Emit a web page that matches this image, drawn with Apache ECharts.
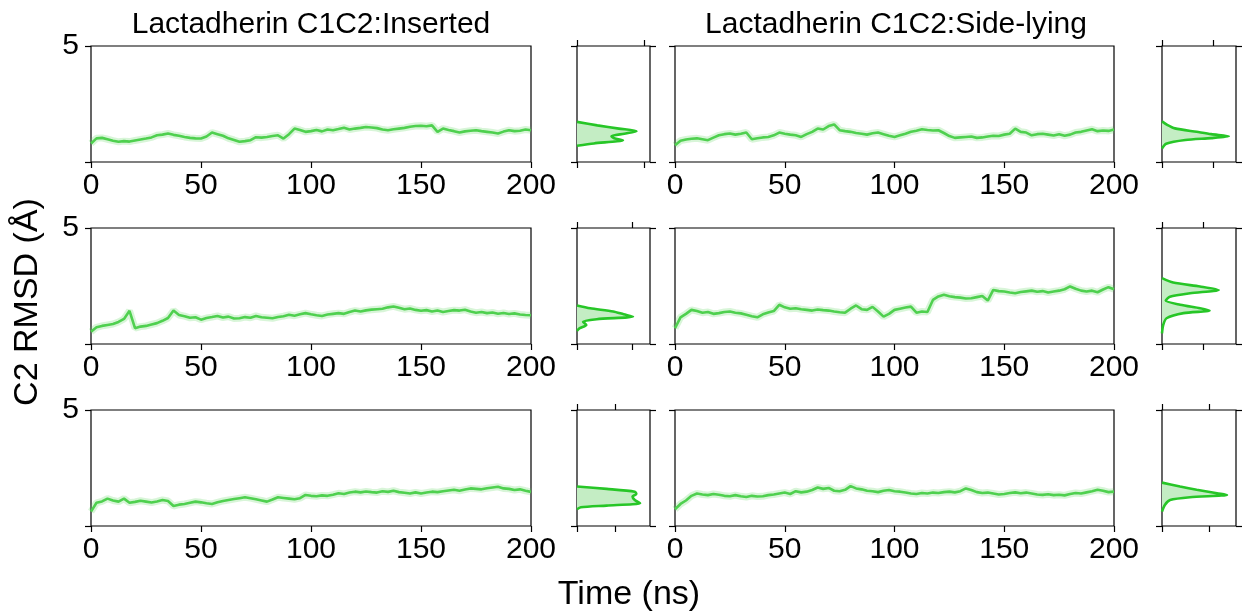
<!DOCTYPE html>
<html>
<head>
<meta charset="utf-8">
<script src="https://cdn.jsdelivr.net/npm/echarts@6/dist/echarts.min.js"></script>
<style>
html, body { margin: 0; padding: 0; background: #fff; }
#main { width: 1243px; height: 611px; }
</style>
</head>
<body>
<div id="main"></div>
<script>
// sampling times (ns)
var times = [0, 2.5, 5, 7.5, 10, 12.5, 15, 17.5, 20, 22.5, 25, 27.5, 30, 32.5, 35, 37.5, 40, 42.5, 45, 47.5,
    50, 52.5, 55, 57.5, 60, 62.5, 65, 67.5, 70, 72.5, 75, 77.5, 80, 82.5, 85, 87.5, 90, 92.5, 95, 97.5,
    100, 102.5, 105, 107.5, 110, 112.5, 115, 117.5, 120, 122.5, 125, 127.5, 130, 132.5, 135, 137.5, 140, 142.5, 145, 147.5,
    150, 152.5, 155, 157.5, 160, 162.5, 165, 167.5, 170, 172.5, 175, 177.5, 180, 182.5, 185, 187.5, 190, 192.5, 195, 197.5, 200];

// C2 RMSD (A), inserted replicas
var insertedRep1 = [0.80, 1.02, 1.04, 0.98, 0.92, 0.87, 0.90, 0.88, 0.93, 0.97, 1.01, 1.06, 1.15, 1.18, 1.23, 1.17, 1.13, 1.08, 1.04, 1.02,
    1.01, 1.10, 1.27, 1.20, 1.13, 1.02, 0.95, 0.87, 0.90, 0.94, 1.07, 1.05, 1.08, 1.12, 1.15, 1.01, 1.20, 1.44, 1.38, 1.30,
    1.33, 1.38, 1.32, 1.40, 1.37, 1.42, 1.48, 1.40, 1.44, 1.47, 1.51, 1.49, 1.46, 1.40, 1.37, 1.41, 1.44, 1.47, 1.52, 1.55,
    1.56, 1.54, 1.58, 1.30, 1.44, 1.38, 1.33, 1.27, 1.32, 1.35, 1.37, 1.33, 1.30, 1.27, 1.23, 1.31, 1.37, 1.33, 1.35, 1.40, 1.37];
var insertedRep2 = [0.53, 0.72, 0.78, 0.82, 0.86, 0.95, 1.08, 1.43, 0.68, 0.75, 0.78, 0.84, 0.90, 1.00, 1.12, 1.44, 1.25, 1.20, 1.13, 1.15,
    1.05, 1.12, 1.16, 1.21, 1.14, 1.18, 1.10, 1.11, 1.16, 1.13, 1.21, 1.15, 1.13, 1.11, 1.16, 1.20, 1.26, 1.22, 1.28, 1.33,
    1.28, 1.24, 1.21, 1.27, 1.30, 1.33, 1.30, 1.38, 1.44, 1.40, 1.45, 1.48, 1.50, 1.52, 1.58, 1.62, 1.56, 1.50, 1.53, 1.47,
    1.43, 1.46, 1.40, 1.44, 1.38, 1.42, 1.46, 1.44, 1.48, 1.40, 1.35, 1.38, 1.33, 1.36, 1.30, 1.34, 1.29, 1.32, 1.27, 1.25, 1.24];
var insertedRep3 = [0.62, 1.00, 1.06, 1.18, 1.10, 1.05, 1.18, 1.00, 1.04, 1.09, 1.05, 1.01, 1.06, 1.12, 1.08, 0.86, 0.92, 0.95, 1.00, 1.05,
    1.02, 0.98, 0.95, 1.02, 1.08, 1.12, 1.16, 1.20, 1.24, 1.20, 1.15, 1.10, 1.05, 1.14, 1.24, 1.21, 1.18, 1.15, 1.20, 1.34,
    1.30, 1.28, 1.32, 1.30, 1.35, 1.41, 1.38, 1.44, 1.48, 1.45, 1.49, 1.46, 1.44, 1.50, 1.47, 1.52, 1.46, 1.43, 1.40, 1.45,
    1.40, 1.44, 1.48, 1.46, 1.50, 1.53, 1.56, 1.52, 1.57, 1.62, 1.60, 1.58, 1.63, 1.66, 1.69, 1.62, 1.60, 1.55, 1.58, 1.52, 1.47];

// C2 RMSD (A), side-lying replicas
var sideRep1 = [0.72, 0.92, 0.97, 1.00, 1.02, 0.98, 0.94, 1.05, 1.15, 1.20, 1.23, 1.18, 1.22, 1.27, 0.98, 1.02, 1.06, 1.08, 1.15, 1.27,
    1.22, 1.18, 1.15, 1.08, 1.20, 1.30, 1.44, 1.40, 1.55, 1.62, 1.37, 1.33, 1.30, 1.25, 1.22, 1.18, 1.24, 1.27, 1.20, 1.13,
    1.08, 1.15, 1.22, 1.30, 1.35, 1.41, 1.38, 1.36, 1.37, 1.25, 1.12, 1.04, 1.06, 1.08, 1.10, 1.04, 1.06, 1.10, 1.13, 1.12,
    1.18, 1.22, 1.44, 1.30, 1.27, 1.15, 1.20, 1.22, 1.18, 1.14, 1.20, 1.13, 1.18, 1.27, 1.30, 1.36, 1.41, 1.33, 1.36, 1.34, 1.40];
var sideRep2 = [0.68, 1.15, 1.30, 1.47, 1.42, 1.35, 1.38, 1.30, 1.33, 1.38, 1.40, 1.35, 1.32, 1.26, 1.20, 1.15, 1.28, 1.36, 1.42, 1.69,
    1.58, 1.52, 1.54, 1.50, 1.47, 1.44, 1.49, 1.46, 1.44, 1.40, 1.37, 1.35, 1.52, 1.66, 1.50, 1.47, 1.60, 1.40, 1.18, 1.30,
    1.47, 1.52, 1.57, 1.61, 1.35, 1.40, 1.38, 1.90, 2.05, 2.12, 2.06, 2.02, 2.00, 1.96, 1.97, 2.02, 2.07, 1.87, 2.33, 2.28,
    2.26, 2.22, 2.19, 2.24, 2.27, 2.30, 2.25, 2.28, 2.22, 2.26, 2.30, 2.36, 2.48, 2.38, 2.30, 2.26, 2.30, 2.23, 2.35, 2.45, 2.36];
var sideRep3 = [0.72, 0.95, 1.10, 1.30, 1.40, 1.36, 1.33, 1.38, 1.35, 1.30, 1.28, 1.33, 1.28, 1.25, 1.30, 1.27, 1.28, 1.33, 1.36, 1.40,
    1.44, 1.38, 1.50, 1.45, 1.48, 1.55, 1.66, 1.60, 1.64, 1.52, 1.50, 1.56, 1.72, 1.62, 1.58, 1.52, 1.50, 1.46, 1.52, 1.55,
    1.50, 1.48, 1.44, 1.40, 1.38, 1.42, 1.40, 1.44, 1.42, 1.46, 1.48, 1.45, 1.50, 1.62, 1.55, 1.46, 1.42, 1.44, 1.40, 1.36,
    1.38, 1.42, 1.45, 1.41, 1.44, 1.40, 1.36, 1.34, 1.37, 1.33, 1.35, 1.32, 1.38, 1.42, 1.40, 1.45, 1.50, 1.56, 1.52, 1.46, 1.48];

// distributions: RMSD levels and density at each level
var histInsRep1Rmsd = [0.70, 0.80, 0.94, 1.02, 1.11, 1.22, 1.33, 1.44, 1.58, 1.73];
var histInsRep1Dens = [0, 0.25, 0.68, 0.55, 0.51, 0.70, 0.88, 0.62, 0.30, 0];
var histInsRep2Rmsd = [0.57, 0.68, 0.82, 0.96, 1.07, 1.18, 1.28, 1.40, 1.54, 1.66];
var histInsRep2Dens = [0, 0.05, 0.17, 0.11, 0.36, 1.02, 0.85, 0.66, 0.24, 0];
var histInsRep3Rmsd = [0.72, 0.81, 0.88, 0.98, 1.12, 1.27, 1.38, 1.48, 1.60, 1.70];
var histInsRep3Dens = [0, 0.10, 0.78, 1.66, 1.52, 1.46, 1.56, 1.52, 0.78, 0];
var histSideRep1Rmsd = [0.58, 0.79, 0.95, 1.03, 1.11, 1.20, 1.30, 1.45, 1.60, 1.75];
var histSideRep1Dens = [0, 0.08, 0.45, 0.95, 1.29, 0.95, 0.67, 0.25, 0.10, 0];
var histSideRep2Rmsd = [0.46, 0.82, 1.11, 1.33, 1.44, 1.54, 1.69, 1.87, 2.04, 2.19, 2.33, 2.48, 2.65, 2.84];
var histSideRep2Dens = [0, 0.03, 0.11, 0.52, 1.15, 0.92, 0.44, 0.09, 0.19, 0.68, 1.37, 0.92, 0.27, 0];
var histSideRep3Rmsd = [0.62, 0.91, 1.12, 1.24, 1.34, 1.41, 1.56, 1.70, 1.87];
var histSideRep3Dens = [0, 0.06, 0.17, 0.59, 1.37, 1.16, 0.73, 0.38, 0];

// density axis upper limits
var histMaxIns = [1.08, 1.33, 1.92];
var histMaxSide = [1.43, 1.79, 1.56];

var xTicks = [0, 50, 100, 150, 200];
var colTitles = ['Lactadherin C1C2:Inserted', 'Lactadherin C1C2:Side-lying'];

var FONT = 'Liberation Sans, Arial, sans-serif';
var LINE = '#4fd04f';
var panels = [
    {ts: insertedRep1, rm: histInsRep1Rmsd, dn: histInsRep1Dens, max: histMaxIns[0]},
    {ts: insertedRep2, rm: histInsRep2Rmsd, dn: histInsRep2Dens, max: histMaxIns[1]},
    {ts: insertedRep3, rm: histInsRep3Rmsd, dn: histInsRep3Dens, max: histMaxIns[2]},
    {ts: sideRep1, rm: histSideRep1Rmsd, dn: histSideRep1Dens, max: histMaxSide[0]},
    {ts: sideRep2, rm: histSideRep2Rmsd, dn: histSideRep2Dens, max: histMaxSide[1]},
    {ts: sideRep3, rm: histSideRep3Rmsd, dn: histSideRep3Dens, max: histMaxSide[2]}
];

var rowTop = [46, 228, 410];
var mainLeft = [91, 675], mainWidth = [440, 439];
var histLeft = [577, 1162], histWidth = [73, 74];
var panelH = 116;

var grids = [], xAxes = [], yAxes = [], series = [];
var tickStyle = {color: '#000', width: 1.2};
var noLine = {show: false, onZero: false};

function fillRender(rm, dn) {
    return function (params, api) {
        if (params.dataIndex !== 0) return null;
        var pts = [api.coord([0, rm[0]])];
        for (var i = 0; i < rm.length; i++) pts.push(api.coord([dn[i], rm[i]]));
        pts.push(api.coord([0, rm[rm.length - 1]]));
        return {type: 'polygon', shape: {points: pts}, style: {fill: '#c4edc4'}};
    };
}

panels.forEach(function (p, i) {
    var col = i < 3 ? 0 : 1, row = i % 3;
    var gMain = grids.length;
    grids.push({left: mainLeft[col], top: rowTop[row], width: mainWidth[col], height: panelH,
        show: true, borderColor: '#000', borderWidth: 1.2, outerBoundsMode: 'none'});
    var gHist = grids.length;
    grids.push({left: histLeft[col], top: rowTop[row], width: histWidth[col], height: panelH,
        show: true, borderColor: '#000', borderWidth: 1.2, outerBoundsMode: 'none'});

    // main panel axes
    var xm = xAxes.length;
    xAxes.push({type: 'value', gridIndex: gMain, min: 0, max: 200, interval: 50,
        axisLine: noLine, splitLine: {show: false},
        axisTick: {show: true, length: 6, customValues: xTicks, lineStyle: tickStyle},
        axisLabel: {fontSize: 30, color: '#000', fontFamily: FONT, margin: 9, customValues: xTicks}});
    var ym = yAxes.length;
    yAxes.push({type: 'value', gridIndex: gMain, min: 0, max: 5, interval: 5,
        axisLine: noLine, splitLine: {show: false},
        axisTick: {show: true, length: 6, lineStyle: tickStyle},
        axisLabel: {show: col === 0, fontSize: 30, color: '#000', fontFamily: FONT, margin: 12,
            formatter: function (v) { return v === 5 ? '5' : ''; }}});

    // histogram panel axes (ticks on all four sides, no labels)
    var histTick = {show: true, length: 6, customValues: [0, 1], lineStyle: tickStyle};
    var xh = xAxes.length;
    xAxes.push({type: 'value', gridIndex: gHist, min: 0, max: p.max, position: 'bottom',
        axisLine: noLine, splitLine: {show: false}, axisTick: histTick, axisLabel: {show: false}});
    xAxes.push({type: 'value', gridIndex: gHist, min: 0, max: p.max, position: 'top',
        axisLine: noLine, splitLine: {show: false}, axisTick: histTick, axisLabel: {show: false}});
    var yTick = {show: true, length: 6, customValues: [0, 5], lineStyle: tickStyle};
    var yh = yAxes.length;
    yAxes.push({type: 'value', gridIndex: gHist, min: 0, max: 5, position: 'left',
        axisLine: noLine, splitLine: {show: false}, axisTick: yTick, axisLabel: {show: false}});
    yAxes.push({type: 'value', gridIndex: gHist, min: 0, max: 5, position: 'right',
        axisLine: noLine, splitLine: {show: false}, axisTick: yTick, axisLabel: {show: false}});

    var pts = times.map(function (t, k) { return [t, p.ts[k]]; });
    series.push({type: 'line', xAxisIndex: xm, yAxisIndex: ym, data: pts, showSymbol: false,
        lineStyle: {color: 'rgba(79,208,79,0.22)', width: 7}, silent: true, z: 2});
    series.push({type: 'line', xAxisIndex: xm, yAxisIndex: ym, data: pts, showSymbol: false,
        lineStyle: {color: LINE, width: 2.6}, z: 3});

    var hp = p.rm.map(function (r, k) { return [p.dn[k], r]; });
    series.push({type: 'custom', xAxisIndex: xh, yAxisIndex: yh, data: hp,
        renderItem: fillRender(p.rm, p.dn), clip: true, z: 2});
    series.push({type: 'line', xAxisIndex: xh, yAxisIndex: yh, data: hp, showSymbol: false, smooth: 0.25,
        lineStyle: {color: '#27c627', width: 2.6}, z: 3});
});

var chart = echarts.init(document.getElementById('main'));
chart.setOption({
    animation: false,
    grid: grids,
    xAxis: xAxes,
    yAxis: yAxes,
    series: series,
    graphic: [
        {type: 'text', x: 311, y: 25, style: {text: colTitles[0], fontSize: 30, fontFamily: FONT, fill: '#000', align: 'center', verticalAlign: 'middle'}},
        {type: 'text', x: 896, y: 25, style: {text: colTitles[1], fontSize: 30, fontFamily: FONT, fill: '#000', align: 'center', verticalAlign: 'middle'}},
        {type: 'text', x: 629, y: 595, style: {text: 'Time (ns)', fontSize: 34, fontFamily: FONT, fill: '#000', align: 'center', verticalAlign: 'middle'}},
        {type: 'text', x: 28, y: 302, rotation: Math.PI / 2, style: {text: 'C2 RMSD (Å)', fontSize: 34, fontFamily: FONT, fill: '#000', align: 'center', verticalAlign: 'middle'}}
    ]
});
</script>
</body>
</html>
